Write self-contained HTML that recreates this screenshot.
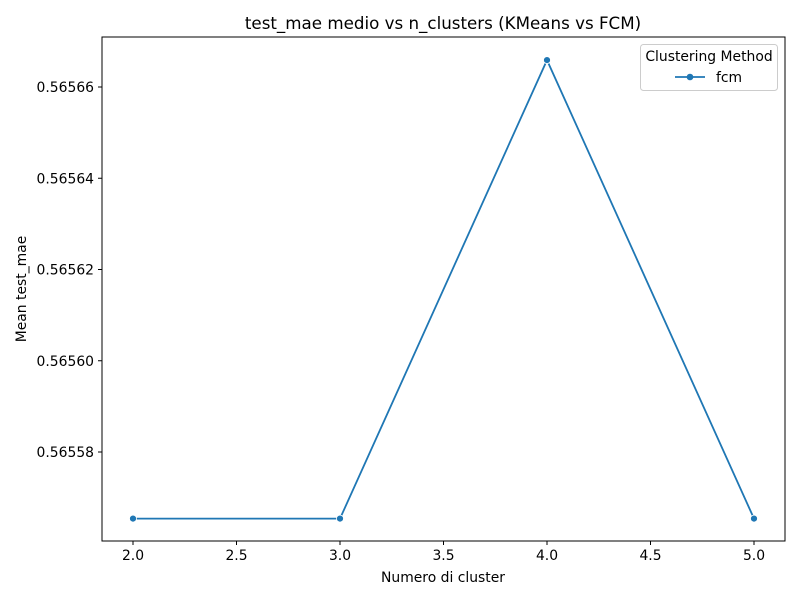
<!DOCTYPE html>
<html><head><meta charset="utf-8"><style>
body{margin:0;background:#fff;font-family:"DejaVu Sans","Liberation Sans",sans-serif;}
svg text{font-family:"DejaVu Sans","Liberation Sans",sans-serif;fill:#000;}
</style></head><body>
<svg id="chart" width="800" height="600">
<rect width="800" height="600" fill="#fff"/>
<text x="443" y="29" font-size="16.7" text-anchor="middle">test_mae medio vs n_clusters (KMeans vs FCM)</text>
<g id="xt"></g><g id="yt"></g>
<polyline id="line" fill="none" stroke="#1f77b4" stroke-width="1.8"/>
<g id="pts"></g>
<rect x="102" y="37" width="683" height="504" fill="none" stroke="#000" stroke-width="1"/>
<text x="443" y="582" font-size="13.9" text-anchor="middle">Numero di cluster</text>
<text transform="translate(26,289) rotate(-90)" font-size="13.9" text-anchor="middle">Mean test_mae</text>
<g>
<rect x="640.5" y="44.5" width="137" height="46" rx="3" fill="#fff" stroke="#ccc"/>
<text x="709" y="61" font-size="13.9" text-anchor="middle">Clustering Method</text>
<line x1="675" y1="77" x2="705" y2="77" stroke="#1f77b4" stroke-width="1.8"/>
<circle cx="690" cy="77" r="3.3" fill="#1f77b4"/>
<text x="716" y="82" font-size="13.9">fcm</text>
</g>
</svg>
<script>
const xValues=[2,3,4,5];
const yValues=[0.5655654,0.5655654,0.5656659,0.5655654];
const xTicks=[2.0,2.5,3.0,3.5,4.0,4.5,5.0];
const yTicks=[0.56558,0.56560,0.56562,0.56564,0.56566];
const NS="http://www.w3.org/2000/svg";
function sx(v){return 133+(v-2)*207;}
function sy(v){return 452-(v-0.56558)/0.00002*91.25;}
const xt=document.getElementById('xt'),yt=document.getElementById('yt');
xTicks.forEach(t=>{
 const l=document.createElementNS(NS,'line');
 l.setAttribute('x1',sx(t));l.setAttribute('x2',sx(t));l.setAttribute('y1',541);l.setAttribute('y2',545);l.setAttribute('stroke','#000');
 
 
 xt.appendChild(l);
 const tx=document.createElementNS(NS,'text');
 tx.setAttribute('x',sx(t));tx.setAttribute('y',560);tx.setAttribute('font-size','13.9');tx.setAttribute('text-anchor','middle');
 tx.textContent=t.toFixed(1);
 
 
 xt.appendChild(tx);
});
yTicks.forEach(t=>{
 const l=document.createElementNS(NS,'line');
 l.setAttribute('x1',98);l.setAttribute('x2',102);l.setAttribute('y1',sy(t));l.setAttribute('y2',sy(t));l.setAttribute('stroke','#000');
 
 
 yt.appendChild(l);
 const tx=document.createElementNS(NS,'text');
 tx.setAttribute('x',94);tx.setAttribute('y',sy(t)+5);tx.setAttribute('font-size','13.9');tx.setAttribute('text-anchor','end');
 tx.textContent=t.toFixed(5);
 
 
 yt.appendChild(tx);
});
document.getElementById('line').setAttribute('points',xValues.map((x,i)=>sx(x)+','+sy(yValues[i])).join(' '));
const pts=document.getElementById('pts');
xValues.forEach((x,i)=>{
 const c=document.createElementNS(NS,'circle');
 c.setAttribute('cx',sx(x));c.setAttribute('cy',sy(yValues[i]));c.setAttribute('r',3.5);c.setAttribute('fill','#1f77b4');c.setAttribute('stroke','#fff');c.setAttribute('stroke-width','0.8');
 
 
 pts.appendChild(c);
});
</script>
</body></html>
